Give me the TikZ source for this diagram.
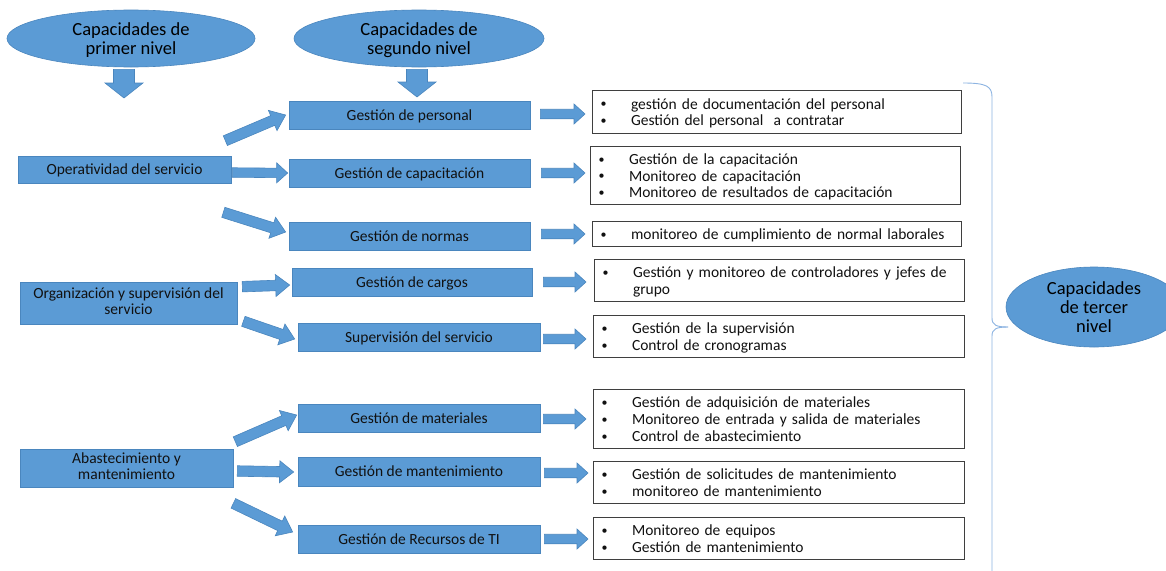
\documentclass[tikz,border=0pt]{standalone}
\usepackage{fontspec}
\setmainfont{Carlito}
\usetikzlibrary{calc,shapes.geometric}

\definecolor{officeblue}{HTML}{5B9BD5}
\definecolor{officeedge}{HTML}{4A86BE}
\definecolor{bracecol}{HTML}{8DB4E2}
\definecolor{boxedge}{HTML}{3F3F3F}
\definecolor{inktext}{HTML}{111111}

% bullet column used inside the list boxes
\newcommand\itemdot{\makebox[30.5pt][l]{\raisebox{1.2pt}{\fontsize{12}{12}\selectfont\textbullet}}}
\newcommand\itemgap{\makebox[30.5pt][l]{}}
% fixed top/bottom struts so every text block sits the same way in its box
\newcommand\topstrut[1]{\rule{0pt}{#1}}
\newcommand\botstrut[1]{\rule[-#1]{0pt}{#1}}
\newcommand\ovaltext[1]{\topstrut{17pt}#1\botstrut{5pt}}

\begin{document}
\begin{tikzpicture}[x=1pt,y=-1pt,
  ba shaft/.store in=\baShaft, ba head/.store in=\baHead, ba len/.store in=\baLen,
  ba shaft=4.75pt, ba head=10pt, ba len=11pt,
  % filled block arrow drawn from the start point to the target point
  blockarrow/.style={fill=officeblue, draw=officeedge, line width=0.6pt, line join=miter,
    to path={
      let \p1=(\tikztostart), \p2=(\tikztotarget),
          \n1={atan2(\y2-\y1,\x2-\x1)},
          \n2={veclen(\x2-\x1,\y2-\y1)}
      in
      ($(\p1)+({\n1+90}:\baShaft)$)
      -- ($(\p1)+(\n1:{\n2-\baLen})+({\n1+90}:\baShaft)$)
      -- ($(\p1)+(\n1:{\n2-\baLen})+({\n1+90}:\baHead)$)
      -- (\p2)
      -- ($(\p1)+(\n1:{\n2-\baLen})+({\n1-90}:\baHead)$)
      -- ($(\p1)+(\n1:{\n2-\baLen})+({\n1-90}:\baShaft)$)
      -- ($(\p1)+({\n1-90}:\baShaft)$)
      -- cycle
    }},
  small arrow/.style={ba shaft=4.75pt, ba head=10pt, ba len=11pt, blockarrow},
  big arrow/.style={ba shaft=5.25pt, ba head=11pt, ba len=14pt, blockarrow},
  down arrow/.style={ba shaft=10.5pt, ba head=19pt, ba len=15pt, blockarrow},
  oval/.style={ellipse, fill=officeblue, draw=officeedge, line width=0.6pt,
    inner xsep=0pt, inner ysep=-9pt,
    align=center, text=black, font=\fontsize{18.5}{19}\selectfont},
  capbox/.style={rectangle, fill=officeblue, draw=officeedge, line width=0.7pt, inner sep=0pt,
    align=center, text=inktext, font=\fontsize{15.5}{16.5}\selectfont,
    execute at begin node=\topstrut{14pt}, execute at end node=\botstrut{4pt}},
  listbox/.style={rectangle, draw=boxedge, line width=1pt, fill=white, anchor=north west,
    align=left, inner xsep=8pt, inner ysep=0pt, text=inktext,
    font=\fontsize{15.5}{16.8}\selectfont,
    execute at begin node=\topstrut{15pt}, execute at end node=\botstrut{4pt}}
]
\useasboundingbox (0,0) rectangle (1166,570);
\fill[white] (0,0) rectangle (1166,570);

% level headings
\node[oval, minimum width=248pt, minimum height=57pt] (lvl1) at (131,38.5) {\ovaltext{Capacidades de\\primer nivel}};
\node[oval, minimum width=250pt, minimum height=57pt] (lvl2) at (419,38.5) {\ovaltext{Capacidades de\\segundo nivel}};

\coordinate (d1) at (124,98);
\coordinate (d2) at (417,97);
\draw[down arrow] ([shift={(-7,2)}]lvl1.south) to (d1);
\draw[down arrow] ([shift={(-2,2)}]lvl2.south) to (d2);

% first level
\node[capbox, minimum width=213pt, minimum height=27pt] (op) at (124.5,169.5) {Operatividad del servicio};
\node[capbox, minimum width=217pt, minimum height=42pt] (org) at (128.5,303) {Organización y supervisión del\\servicio};
\node[capbox, minimum width=213pt, minimum height=38pt] (aba) at (126.5,468) {Abastecimiento y\\mantenimiento};

% second level
\node[capbox, minimum width=241pt, minimum height=28pt] (per) at (409.5,115) {Gestión de personal};
\node[capbox, minimum width=241pt, minimum height=28pt] (cap) at (409.5,173) {Gestión de capacitación};
\node[capbox, minimum width=241pt, minimum height=28pt] (nor) at (409.5,236) {Gestión de normas};
\node[capbox, minimum width=240pt, minimum height=28pt] (car) at (412,282) {Gestión de cargos};
\node[capbox, minimum width=242pt, minimum height=28pt] (sup) at (419,337) {Supervisión del servicio};
\node[capbox, minimum width=242pt, minimum height=28pt] (mat) at (419,418) {Gestión de materiales};
\node[capbox, minimum width=242pt, minimum height=29pt] (man) at (419,471.5) {Gestión de mantenimiento};
\node[capbox, minimum width=242pt, minimum height=28pt] (rti) at (419,539) {Gestión de Recursos de TI};

% third level
\node[listbox, text width=353pt, minimum height=43pt] (r1) at (592,90)
  {\itemdot gestión de documentación del personal\\\itemdot Gestión del personal\ \ a contratar};
\node[listbox, text width=354pt, minimum height=58pt] (r2) at (590,146)
  {\itemdot Gestión de la capacitación\\\itemdot Monitoreo de capacitación\\\itemdot Monitoreo de resultados de capacitación};
\node[listbox, text width=353pt, minimum height=25pt] (r3) at (592,221)
  {\itemdot monitoreo de cumplimiento de normal laborales};
\node[listbox, text width=354pt, minimum height=42pt] (r4) at (594,259)
  {\itemdot Gestión y monitoreo de controladores y jefes de\\\itemgap grupo};
\node[listbox, text width=355pt, minimum height=42pt] (r5) at (593,315)
  {\itemdot Gestión de la supervisión\\\itemdot Control de cronogramas};
\node[listbox, text width=355pt, minimum height=59pt] (r6) at (593,389)
  {\itemdot Gestión de adquisición de materiales\\\itemdot Monitoreo de entrada y salida de materiales\\\itemdot Control de abastecimiento};
\node[listbox, text width=355pt, minimum height=42pt] (r7) at (593,461)
  {\itemdot Gestión de solicitudes de mantenimiento\\\itemdot monitoreo de mantenimiento};
\node[listbox, text width=355pt, minimum height=42pt] (r8) at (593,517)
  {\itemdot Monitoreo de equipos\\\itemdot Gestión de mantenimiento};

% first level to second level
\draw[big arrow] ([shift={(-6,-15)}]op.north east) to ([shift={(-3,0)}]per.west);
\draw[small arrow] ([shift={(1,3)}]op.east) to ([shift={(-1,0)}]cap.west);
\draw[big arrow] ([shift={(-8,29)}]op.south east) to ([shift={(-3,-4)}]nor.west);
\draw[big arrow] ([shift={(5,5)}]org.north east) to ([shift={(-2,3)}]car.west);
\draw[big arrow] ([shift={(6,-3)}]org.south east) to ([shift={(-3,2)}]sup.west);
\draw[big arrow] ([shift={(2,-7)}]aba.north east) to ([shift={(-1,-3)}]mat.west);
\draw[big arrow] ([shift={(4,3)}]aba.east) to ([shift={(-4,0.5)}]man.west);
\draw[big arrow] ([shift={(0,16)}]aba.south east) to ([shift={(-5,-7)}]rti.west);

% second level to third level
\draw[small arrow] ([shift={(10,-1)}]per.east) to ($(per.east -| r1.west)+(-7,-1)$);
\draw[small arrow] ([shift={(11,0)}]cap.east) to ($(cap.east -| r2.west)+(-5,0)$);
\draw[small arrow] ([shift={(11,-2)}]nor.east) to ($(nor.east -| r3.west)+(-7,-2)$);
\draw[small arrow] ([shift={(11,0)}]car.east) to ($(car.east -| r4.west)+(-8,0)$);
\draw[small arrow] ([shift={(3,2)}]sup.east) to ($(sup.east -| r5.west)+(-7,2)$);
\draw[small arrow] ([shift={(3,1)}]mat.east) to ($(mat.east -| r6.west)+(-7,1)$);
\draw[small arrow] ([shift={(4,1.5)}]man.east) to ($(man.east -| r7.west)+(-5,1.5)$);
\draw[small arrow] ([shift={(4,0)}]rti.east) to ($(rti.east -| r8.west)+(-5,0)$);

% brace grouping the third level
\draw[bracecol, line width=0.9pt] (963,83) .. controls (986,83) and (992,86) .. (992,97)
  -- (992,318) .. controls (992,325) and (996,327) .. (1008,327);
\draw[bracecol, line width=0.9pt] (1008,327) .. controls (996,327) and (992,329) .. (992,336)
  -- (992,572);

\node[oval, minimum width=176pt, minimum height=80pt] (lvl3) at (1094,307) {\ovaltext{Capacidades\\de tercer\\nivel}};
\end{tikzpicture}
\end{document}
